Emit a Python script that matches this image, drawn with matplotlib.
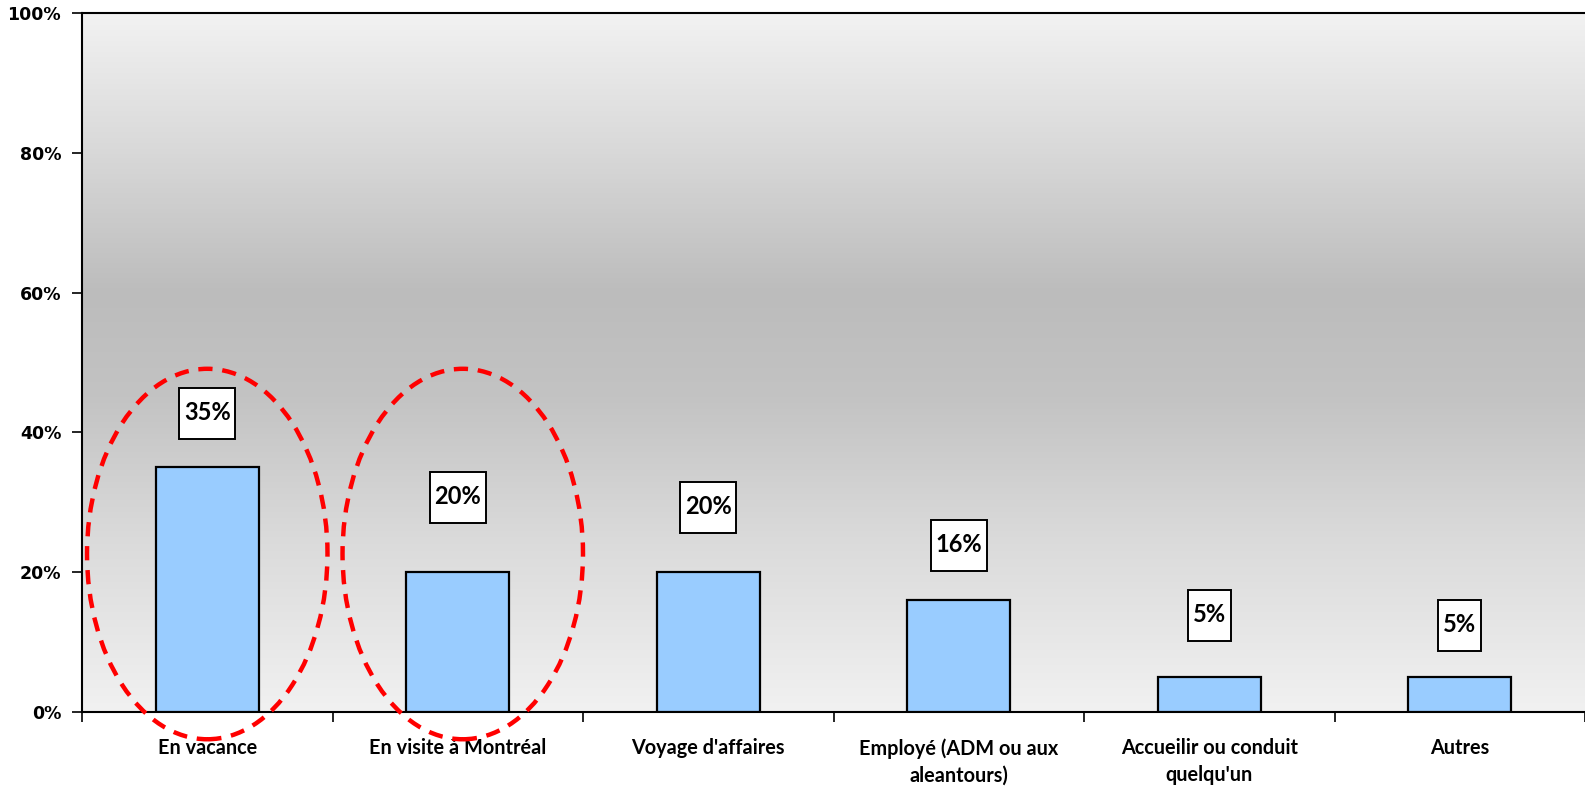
import numpy as np
import matplotlib
matplotlib.use("Agg")
import matplotlib.pyplot as plt
from matplotlib.patches import Ellipse, Rectangle
from matplotlib.colors import LinearSegmentedColormap
from matplotlib.transforms import ScaledTranslation

categories = ["En vacance", "En visite à Montréal", "Voyage d'affaires",
              "Employé (ADM ou aux\naleantours)", "Accueilir ou conduit\nquelqu'un", "Autres"]
values = [35, 20, 20, 16, 5, 5]
value_labels = ["35%", "20%", "20%", "16%", "5%", "5%"]
yticks = [0, 20, 40, 60, 80, 100]
ytick_labels = ["0%", "20%", "40%", "60%", "80%", "100%"]
highlighted = [0, 1]

# label box centre height above each bar top (inches) and box sizes (inches)
label_offsets = [0.54, 0.75, 0.65, 0.55, 0.62, 0.52]
label_box_w = [0.56, 0.56, 0.56, 0.56, 0.43, 0.43]
label_box_h = 0.51

W, H = 1585, 788
fig = plt.figure(figsize=(W / 100, H / 100), dpi=100)
ax = fig.add_axes([82 / W, (H - 712) / H, (W - 82) / W, 699 / H])

# vertical grey gradient behind the plot area
grad = LinearSegmentedColormap.from_list(
    "bg", [(0.0, "#f1f1f1"), (0.25, "#dadada"), (0.45, "#c3c3c3"),
           (0.6, "#bcbcbc"), (0.8, "#d8d8d8"), (1.0, "#f2f2f2")])
ax.imshow(np.linspace(0, 1, 256).reshape(-1, 1), cmap=grad, aspect="auto",
          extent=[0, 1, 0, 1], transform=ax.transAxes, zorder=0, origin="lower")

x = np.arange(len(categories))
ax.bar(x, values, width=0.41, color="#99ccff", edgecolor="black",
       linewidth=1.6, zorder=3)

for xi, v, lab, off, bw in zip(x, values, value_labels, label_offsets, label_box_w):
    trans = fig.dpi_scale_trans + ScaledTranslation(xi, v, ax.transData)
    ax.add_patch(Rectangle((-bw / 2, off - label_box_h / 2), bw, label_box_h,
                           transform=trans, fc="white", ec="black", lw=1.4,
                           zorder=5))
    ax.text(0, off + 0.01, lab, transform=trans, ha="center", va="center",
            fontsize=17, fontweight="bold", family="Lato", zorder=6)

for i in highlighted:
    ax.add_patch(Ellipse((i + 0.02 * i, 22.6), width=0.96, height=53,
                         fill=False, ec="#ff0000", lw=3.2, ls=(0, (3.2, 2.2)),
                         zorder=7, clip_on=False))

ax.set_xlim(-0.5, len(categories) - 0.5)
ax.set_ylim(0, 100)

ax.set_yticks(yticks)
ax.set_yticklabels(ytick_labels, fontsize=12.5, fontweight="bold", family="DejaVu Sans")
ax.tick_params(axis="y", direction="out", length=7, width=1.2, pad=8)

ax.set_xticks(np.arange(len(categories) + 1) - 0.5)
ax.set_xticklabels([])
ax.tick_params(axis="x", which="major", direction="out", length=7, width=1.2)
ax.set_xticks(x, minor=True)
ax.set_xticklabels(categories, minor=True, fontsize=14.3, fontweight="bold",
                   family="Lato", linespacing=1.4)
ax.tick_params(axis="x", which="minor", length=0, pad=19)

for side in ["left", "bottom", "top"]:
    ax.spines[side].set_linewidth(1.5)
ax.spines["right"].set_visible(False)

fig.savefig("out.png", dpi=100)
